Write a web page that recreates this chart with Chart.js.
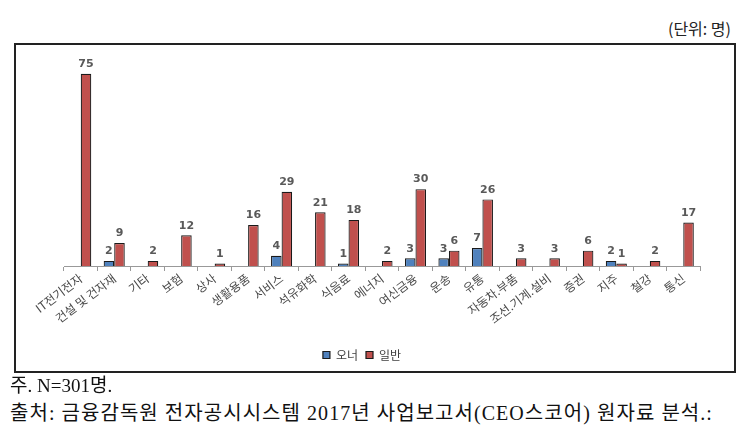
<!DOCTYPE html>
<html>
<head>
<meta charset="utf-8">
<script src="https://cdn.jsdelivr.net/npm/chart.js@4"></script>
<style>
  html, body { margin:0; padding:0; background:#fff; width:749px; height:436px; overflow:hidden; }
  #unit { position:absolute; right:18px; top:16px; font-family:"Noto Sans CJK KR", sans-serif; font-size:16px; color:#222; }
  #box { position:absolute; left:14px; top:43px; width:722px; height:330px; border:2px solid #222; box-sizing:border-box; }
  #box canvas { display:block; }
  .note { position:absolute; left:10px; font-family:"Liberation Serif","Noto Sans CJK KR",serif; color:#111; white-space:nowrap; }
</style>
</head>
<body>
<div id="unit">(단위: 명)</div>
<div id="box"><canvas id="c" width="718" height="326"></canvas></div>
<div class="note" style="top:370px; font-size:19px;">주. N=301명.</div>
<div class="note" style="top:397px; font-size:20px; letter-spacing:1.05px;">출처: 금융감독원 전자공시시스템 2017년 사업보고서(CEO스코어) 원자료 분석.:</div>
<script>
const categories = ["IT전기전자","건설 및 건자재","기타","보험","상사","생활용품","서비스","석유화학","식음료","에너지","여신금융","운송","유통","자동차.부품","조선.기계.설비","증권","지주","철강","통신"];
const ownerValues = [null,2,null,null,null,null,4,null,1,null,3,3,7,null,null,null,2,null,null];
const generalValues = [75,9,2,12,1,16,29,21,18,2,30,6,26,3,3,6,1,2,17];
const seriesNames = ["오너","일반"];

const labelPlugin = {
  id: 'barLabels',
  afterLayout(chart) {
    if (chart.legend) { chart.legend.left -= 20; chart.legend.right -= 20; }
  },
  afterDatasetsDraw(chart) {
    const ctx = chart.ctx;
    ctx.save();
    ctx.font = 'bold 11px "DejaVu Sans", sans-serif';
    ctx.fillStyle = '#595959';
    ctx.textAlign = 'center';
    ctx.textBaseline = 'bottom';
    chart.data.datasets.forEach((ds, i) => {
      const meta = chart.getDatasetMeta(i);
      meta.data.forEach((el, j) => {
        const v = ds.data[j];
        if (v != null && v > 0) ctx.fillText(String(v), el.x, el.y - 4);
      });
    });
    ctx.restore();
  }
};

new Chart(document.getElementById('c'), {
  type: 'bar',
  data: {
    labels: categories,
    datasets: [
      { label: seriesNames[0], data: ownerValues, backgroundColor: '#4F81BD', borderColor: '#1a1a1a', borderWidth: 1.2, categoryPercentage: 0.63, barPercentage: 1.0 },
      { label: seriesNames[1], data: generalValues, backgroundColor: '#C0504D', borderColor: '#1a1a1a', borderWidth: 1.2, categoryPercentage: 0.63, barPercentage: 1.0 }
    ]
  },
  options: {
    responsive: false,
    animation: false,
    layout: { padding: { left: 48, right: 34, top: 16, bottom: 0 } },
    plugins: {
      legend: {
        position: 'bottom',
        labels: { boxWidth: 7, boxHeight: 7, padding: 8, color: '#404040', font: { family: '"Noto Sans CJK KR", sans-serif', size: 12 } }
      },
      tooltip: { enabled: false }
    },
    scales: {
      x: {
        grid: { display: true, drawOnChartArea: false, drawTicks: true, tickLength: 5, offset: true, color: '#999' },
        border: { display: true, color: '#999' },
        ticks: { maxRotation: 37, minRotation: 37, color: '#4a4a4a', padding: 0, font: { family: '"Noto Sans CJK KR", sans-serif', size: 12 } },
        afterFit(scale) { scale.height = 75; }
      },
      y: {
        display: false,
        min: 0, max: 80
      }
    }
  },
  plugins: [labelPlugin]
});
</script>
</body>
</html>
